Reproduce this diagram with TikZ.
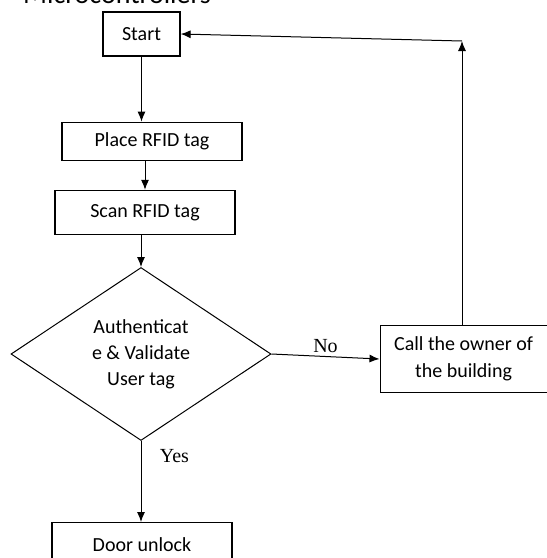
\documentclass[tikz,border=0pt]{standalone}
\usepackage{fontspec}
\setmainfont{Carlito}
\newfontfamily\labelfont{Liberation Serif}
\usetikzlibrary{shapes.geometric, arrows.meta, positioning}
\tikzstyle{stepbox} = [rectangle, draw, line width=1.2pt, minimum width=180pt, minimum height=44pt, text centered, font=\fontsize{20}{27}\selectfont]
\tikzstyle{decision} = [diamond, draw, line width=1pt, minimum width=260pt, minimum height=173pt, inner sep=0pt, text centered, font=\fontsize{20}{26}\selectfont]
\tikzstyle{answer} = [font=\labelfont\fontsize{20}{24}\selectfont]
\tikzstyle{flow} = [line width=1pt, ->, >={Latex[length=10pt,width=8pt]}]

\begin{document}
\begin{tikzpicture}[x=1pt, y=-1pt, align=center, node distance=30pt]
  \useasboundingbox (0,0) rectangle (547,558);
  \node (heading) [anchor=base west, inner sep=0pt, font=\fontsize{28}{32}\selectfont] at (23,3) {Microcontrollers};
  \node (start) [stepbox, minimum width=77pt] at (141.5,34) {Start};
  \node (place) [stepbox, minimum height=38pt, below = 65pt of start, xshift=10.5pt] {Place RFID tag};
  \node (scan) [stepbox, below = 29pt of place, xshift=-7pt] {Scan RFID tag};
  \node (auth) [decision, below = 32pt of scan, xshift=-4pt] {Authenticat\\e \& Validate\\User tag};
  \node (door) [stepbox, below = 81pt of auth, xshift=1pt] {Door unlock};
  \node (call) [stepbox, minimum width=167pt, minimum height=67pt, right = 108pt of auth, yshift=-5pt] {Call the owner of\\the building};
  \coordinate (turn) at (462,41);
  \draw [flow] (start) -- (start |- place.north);
  \draw [flow] (scan.north |- place.south) -- (scan.north);
  \draw [flow] (auth.north |- scan.south) -- (auth.north);
  \draw [flow] (auth.east) -- (call.west) node [answer, above, midway] {No};
  \draw [flow] (auth.south) -- (auth.south |- door.north) node [answer, right=15pt, pos=0.18] {Yes};
  \draw [flow] (call.north -| turn) -- (turn);
  \draw [flow] (turn) -- (start.east);
\end{tikzpicture}
\end{document}
